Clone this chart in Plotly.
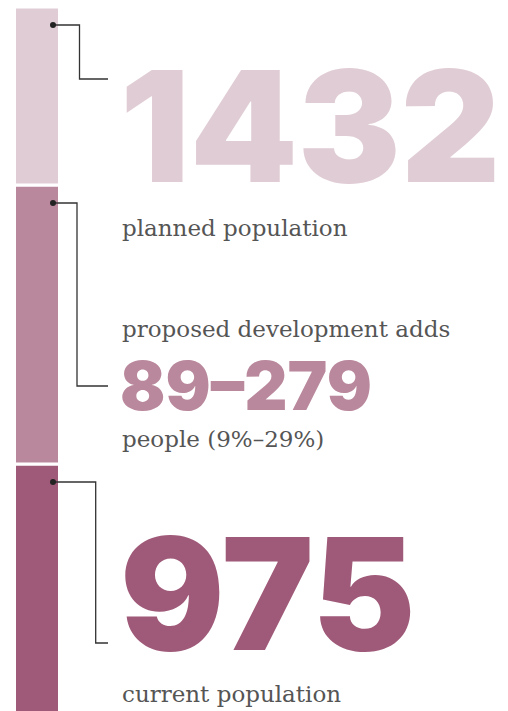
import plotly.graph_objects as go

# ---- data ----
segments = ["current population", "proposed development adds", "planned population"]
bases = [0, 975, 1254]
values = [975, 279, 178]
colors = ["#a05a79", "#ba889c", "#e0ccd4"]
big_labels = ["975", "89–279", "1432"]
small_top = ["", "proposed development adds", ""]
small_bottom = ["current population", "people (9%–29%)", "planned population"]

W, H = 508, 711
Y_TOP = 1439            # value at top pixel row
Y_BOT = Y_TOP - H       # 1 value unit per pixel

def py(px):
    """pixel row -> y value"""
    return Y_TOP - px

fig = go.Figure()

# stacked bar
for name, b, v, c in zip(segments, bases, values, colors):
    fig.add_trace(go.Bar(x=[37], y=[v], base=[b], width=[45], name=name,
                         marker=dict(color=c, line=dict(color="white", width=3)),
                         hoverinfo="skip", showlegend=False))

# leader lines (start derived from segment tops)
bend_x = [95.7, 77, 79.5]
end_px = [643, 386, 79]
for b, v, bx, ep in zip(bases, values, bend_x, end_px):
    ys = b + v - 18
    fig.add_trace(go.Scatter(x=[53, bx, bx, 108], y=[ys, ys, py(ep), py(ep)], mode="lines",
                             line=dict(color="#333333", width=1.3), hoverinfo="skip", showlegend=False))
    fig.add_trace(go.Scatter(x=[53], y=[ys], mode="markers",
                             marker=dict(color="#222222", size=6), hoverinfo="skip", showlegend=False))

LABEL_FONT = dict(family="DejaVu Serif", size=23, color="#555555")

def ann(text, x, ymid, font):
    fig.add_annotation(x=x, y=1 - ymid / H, xref="x", yref="paper", text=text, showarrow=False,
                       xanchor="left", yanchor="middle", font=font)

# big numbers
big_sizes = [155, 67, 154]
big_mid = [593, 386, 126]
for t, s, m, c in zip(big_labels, big_sizes, big_mid, colors):
    ann(t, 118, m, dict(family="Inter", size=s, weight=900, color=c))

# small labels
top_mid = [None, 329, None]
bot_mid = [693.5, 439, 227.5]
for t, m in zip(small_top, top_mid):
    if t:
        ann(t, 120, m, LABEL_FONT)
for t, m in zip(small_bottom, bot_mid):
    ann(t, 120, m, LABEL_FONT)

fig.update_layout(width=W, height=H, margin=dict(l=0, r=0, t=0, b=0),
                  paper_bgcolor="white", plot_bgcolor="white", barmode="overlay",
                  xaxis=dict(range=[0, W], visible=False, fixedrange=True),
                  yaxis=dict(range=[Y_BOT, Y_TOP], visible=False, fixedrange=True))
fig.write_html("out.html", config={"displayModeBar": False},
               post_script="document.body.style.margin='0';document.body.style.overflow='hidden';")
